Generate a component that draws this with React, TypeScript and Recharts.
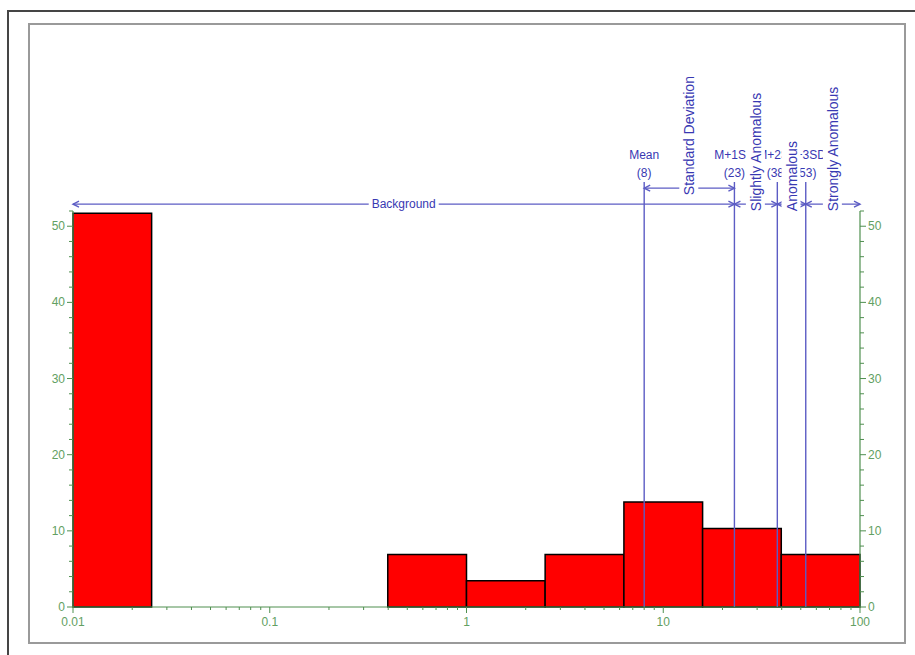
import React from 'react';
import { ComposedChart, XAxis, YAxis, ReferenceArea, ReferenceLine } from 'recharts';

// ---- Data ----
const binStart = [0.01, 0.398, 1, 2.51, 6.31, 15.85, 39.8];
const binEnd = [0.0251, 1, 2.51, 6.31, 15.85, 39.8, 100];
const binPercent = [51.7, 6.9, 3.45, 6.9, 13.8, 10.3, 6.9];

const thresholdNames = ['Mean', 'M+1SD', 'M+2SD', 'M+3SD'];
const thresholdValues = [8, 23, 38, 53];

const zoneNames = ['Background', 'Standard Deviation', 'Slightly Anomalous', 'Anomalous', 'Strongly Anomalous'];
const zoneStart = [0.01, 8, 23, 38, 53];
const zoneEnd = [23, 23, 38, 53, 100];

const xMajorTicks = [0.01, 0.1, 1, 10, 100];
const xTickLabels = ['0.01', '0.1', '1', '10', '100'];
const xMinorTicks = [
  0.02, 0.03, 0.04, 0.05, 0.06, 0.07, 0.08, 0.09,
  0.2, 0.3, 0.4, 0.5, 0.6, 0.7, 0.8, 0.9,
  2, 3, 4, 5, 6, 7, 8, 9,
  20, 30, 40, 50, 60, 70, 80, 90,
];
const yMajorTicks = [0, 10, 20, 30, 40, 50];
const yMinorTicks = [2, 4, 6, 8, 12, 14, 16, 18, 22, 24, 26, 28, 32, 34, 36, 38, 42, 44, 46, 48, 52];

const tableData = binStart.map((s, i) => ({ x: s, x2: binEnd[i], pct: binPercent[i] }));

// ---- Styles ----
const FONT = 'Liberation Sans, Arial, sans-serif';
const AXIS_GREEN = '#4f8f4f';
const TICK_GREEN = '#62a062';
const LINE_BLUE = '#5c5cc4';
const TEXT_BLUE = '#3838b2';
const BAR_RED = '#ff0000';

const Y_MAX = 52;
const THRESHOLD_TOP = 55.8;
const BG_ROW = 52.9;
const SD_ROW = 55.0;

const xTicks = [...xMajorTicks, ...xMinorTicks].sort((a, b) => a - b);
const yTicks = [...yMajorTicks, ...yMinorTicks].sort((a, b) => a - b);

const XTick = (props: any) => {
  const { x, y, payload } = props;
  const idx = xMajorTicks.indexOf(payload.value);
  const major = idx >= 0;
  return (
    <g>
      <line x1={x} x2={x} y1={y} y2={y + (major ? 6 : 3)} stroke={AXIS_GREEN} strokeWidth={1} />
      {major && (
        <text x={x} y={y + 19} textAnchor="middle" fontSize={12} fontFamily={FONT} fill={TICK_GREEN}>
          {xTickLabels[idx]}
        </text>
      )}
    </g>
  );
};

const YTick = (props: any) => {
  const { x, y, payload, side } = props;
  const v = payload.value;
  const major = yMajorTicks.indexOf(v) >= 0;
  const dir = side === 'left' ? -1 : 1;
  const len = major ? 6 : 4;
  return (
    <g>
      <line x1={x} x2={x + dir * len} y1={y} y2={y} stroke={AXIS_GREEN} strokeWidth={1} />
      {major && (
        <text
          x={x + dir * (len + 2)}
          y={y}
          textAnchor={side === 'left' ? 'end' : 'start'}
          dominantBaseline="central"
          fontSize={12}
          fontFamily={FONT}
          fill={TICK_GREEN}
        >
          {v}
        </text>
      )}
    </g>
  );
};

const ThresholdShape = (props: any) => {
  const { x1, y1, y2, name, value } = props;
  const top = Math.min(y1, y2);
  const bottom = Math.max(y1, y2);
  return (
    <g>
      <line x1={x1} x2={x1} y1={top} y2={bottom} stroke={LINE_BLUE} strokeWidth={1.4} />
      <text x={x1} y={top - 23} textAnchor="middle" fontSize={12} fontFamily={FONT} fill={TEXT_BLUE}>
        {name}
      </text>
      <text x={x1} y={top - 5} textAnchor="middle" fontSize={12} fontFamily={FONT} fill={TEXT_BLUE}>
        ({value})
      </text>
    </g>
  );
};

const ZoneShape = (props: any) => {
  const { x1, x2, y1, name, rotated } = props;
  const xa = Math.min(x1, x2);
  const xb = Math.max(x1, x2);
  const y = y1;
  const cx = (xa + xb) / 2;
  const head = 6;
  let label;
  if (rotated) {
    const len = name.length * 7.2 + 4;
    const start = y + 7;
    label = (
      <g>
        <rect x={cx - 10} y={start - len} width={19} height={len + 1} fill="#ffffff" />
        <text
          x={cx}
          y={start}
          transform={`rotate(-90 ${cx} ${start})`}
          textAnchor="start"
          dominantBaseline="central"
          fontSize={14}
          fontFamily={FONT}
          fill={TEXT_BLUE}
        >
          {name}
        </text>
      </g>
    );
  } else {
    const w = name.length * 6.6 + 4;
    label = (
      <g>
        <rect x={cx - w / 2} y={y - 7} width={w} height={14} fill="#ffffff" />
        <text x={cx} y={y} textAnchor="middle" dominantBaseline="central" fontSize={12} fontFamily={FONT} fill={TEXT_BLUE}>
          {name}
        </text>
      </g>
    );
  }
  return (
    <g>
      <line x1={xa} x2={xb} y1={y} y2={y} stroke={LINE_BLUE} strokeWidth={1.4} />
      <polyline points={`${xa + head},${y - 3} ${xa},${y} ${xa + head},${y + 3}`} fill="none" stroke={LINE_BLUE} strokeWidth={1.4} />
      <polyline points={`${xb - head},${y - 3} ${xb},${y} ${xb - head},${y + 3}`} fill="none" stroke={LINE_BLUE} strokeWidth={1.4} />
      {label}
    </g>
  );
};

export default function App() {
  return (
    <div style={{ position: 'absolute', left: 0, top: 0, width: 915, height: 655, background: '#ffffff', overflow: 'hidden' }}>
      <div
        style={{
          position: 'absolute',
          left: 7,
          top: 10,
          width: 915 - 7,
          height: 655 - 10,
          borderTop: '2px solid #454545',
          borderLeft: '2px solid #454545',
          boxSizing: 'border-box',
        }}
      />
      <div
        style={{
          position: 'absolute',
          left: 28,
          top: 23,
          width: 906 - 28,
          height: 644 - 23,
          border: '2px solid #9a9a9a',
          boxSizing: 'border-box',
        }}
      />
      <div style={{ position: 'absolute', left: 0, top: 0 }}>
        <ComposedChart width={915} height={655} data={tableData} margin={{ top: 211, right: 15, bottom: 18, left: 33 }}>
          <XAxis
            type="number"
            dataKey="x"
            scale="log"
            domain={[0.01, 100]}
            allowDataOverflow
            ticks={xTicks}
            interval={0}
            tickLine={false}
            tickSize={0}
            tickMargin={0}
            height={30}
            axisLine={{ stroke: AXIS_GREEN, strokeWidth: 1 }}
            tick={(p: any) => <XTick {...p} />}
          />
          <YAxis
            yAxisId="left"
            type="number"
            domain={[0, Y_MAX]}
            allowDataOverflow
            ticks={yTicks}
            interval={0}
            width={40}
            tickLine={false}
            tickSize={0}
            tickMargin={0}
            axisLine={{ stroke: AXIS_GREEN, strokeWidth: 1.2 }}
            tick={(p: any) => <YTick {...p} side="left" />}
          />
          <YAxis
            yAxisId="right"
            orientation="right"
            type="number"
            domain={[0, Y_MAX]}
            allowDataOverflow
            ticks={yTicks}
            interval={0}
            width={40}
            tickLine={false}
            tickSize={0}
            tickMargin={0}
            axisLine={{ stroke: AXIS_GREEN, strokeWidth: 1.2 }}
            tick={(p: any) => <YTick {...p} side="right" />}
          />
          {binStart.map((s, i) => (
            <ReferenceArea
              key={'bin' + i}
              yAxisId="left"
              x1={s}
              x2={binEnd[i]}
              y1={0}
              y2={binPercent[i]}
              fill={BAR_RED}
              fillOpacity={1}
              stroke="#000000"
              strokeWidth={1.5}
              strokeOpacity={1}
              ifOverflow="visible"
            />
          ))}
          {thresholdValues.map((v, i) => (
            <ReferenceLine
              key={'th' + i}
              yAxisId="left"
              segment={[
                { x: v, y: 0 },
                { x: v, y: THRESHOLD_TOP },
              ]}
              ifOverflow="visible"
              stroke={LINE_BLUE}
              shape={(p: any) => <ThresholdShape {...p} name={thresholdNames[i]} value={v} />}
            />
          ))}
          {zoneNames.map((n, i) => (
            <ReferenceLine
              key={'zone' + i}
              yAxisId="left"
              segment={[
                { x: zoneStart[i], y: i === 1 ? SD_ROW : BG_ROW },
                { x: zoneEnd[i], y: i === 1 ? SD_ROW : BG_ROW },
              ]}
              ifOverflow="visible"
              stroke={LINE_BLUE}
              shape={(p: any) => <ZoneShape {...p} name={n} rotated={i > 0} />}
            />
          ))}
        </ComposedChart>
      </div>
    </div>
  );
}
